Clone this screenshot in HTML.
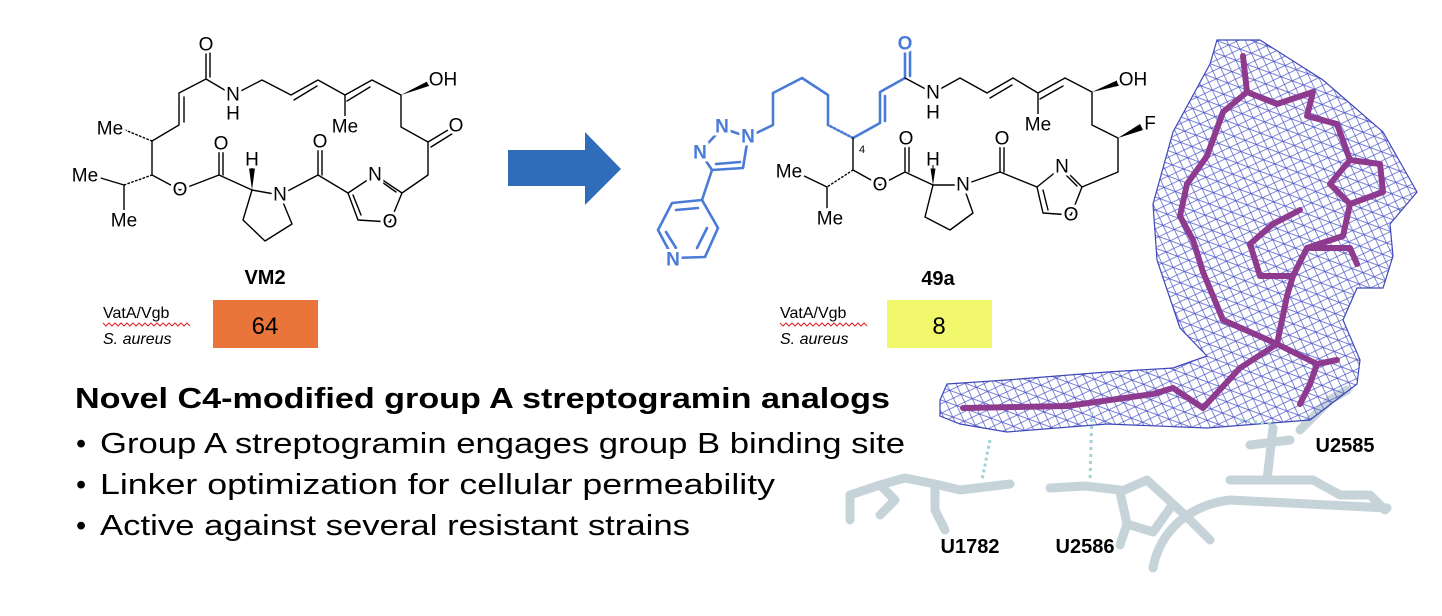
<!DOCTYPE html>
<html><head><meta charset="utf-8">
<style>
html,body{margin:0;padding:0;background:#fff;}
svg{display:block;}
.b{stroke:#000;stroke-width:1.4;fill:none;stroke-linejoin:round;stroke-linecap:round}
.u{stroke:#4a7bd6;stroke-width:2.6;fill:none;stroke-linejoin:round;stroke-linecap:round}
.a{font-family:"Liberation Sans",sans-serif;font-size:19px;fill:#000;text-anchor:middle;dominant-baseline:central;stroke:#fff;stroke-width:6px;paint-order:stroke;}
.ab{font-family:"Liberation Sans",sans-serif;font-size:19px;fill:#4a7bd6;text-anchor:middle;dominant-baseline:central;stroke:#fff;stroke-width:6px;paint-order:stroke;font-weight:bold}
.lbl{font-family:"Liberation Sans",sans-serif;font-weight:bold;font-size:20px;text-anchor:middle;}
.st{stroke:#8e3b8f;stroke-width:6;fill:none;stroke-linecap:round;stroke-linejoin:round}
.rn{stroke:#c6d4d9;stroke-width:9;fill:none;stroke-linecap:round;stroke-linejoin:round}
.txt{font-family:"Liberation Sans Narrow","Liberation Sans",sans-serif;font-size:29px;fill:#000}
</style></head>
<body>
<svg width="1442" height="616" viewBox="0 0 1442 616" xmlns="http://www.w3.org/2000/svg">
<defs>
<pattern id="mesh" width="12" height="12" patternUnits="userSpaceOnUse" patternTransform="rotate(20)">
<path d="M0 0L12 12M12 0L0 12M0 6H12" stroke="#4b55c6" stroke-width="0.7"/>
</pattern>
</defs>

<!-- ===== VM2 ===== -->
<polyline class="b" points="206,47 206,79 179,93 179,125 152,141 152,175 180,190 219,175 252,190 280,195 318,175 348,193 375,175 402,193 428,175 428,142 401,127 401,95 372,80 345,95 318,80 291,95 262,80 233,95 206,79"/>
<line class="b" x1="210" y1="47" x2="210" y2="77"/>
<line class="b" x1="184" y1="97" x2="184" y2="122"/>
<line class="b" x1="294" y1="100" x2="317" y2="86"/>
<line class="b" x1="347" y1="101" x2="370" y2="87"/>
<line class="b" x1="345" y1="95" x2="345" y2="127"/>
<line class="b" x1="428" y1="142" x2="453" y2="127"/>
<line class="b" x1="431" y1="147" x2="455" y2="132"/>
<line class="b" x1="219" y1="175" x2="219" y2="146"/>
<line class="b" x1="223" y1="175" x2="223" y2="146"/>
<line class="b" x1="318" y1="175" x2="318" y2="144"/>
<line class="b" x1="322" y1="175" x2="322" y2="144"/>
<polyline class="b" points="348,193 358,220 390,222 402,193"/>
<line class="b" x1="379" y1="180" x2="396" y2="192"/>
<line class="b" x1="353" y1="195" x2="361" y2="215"/>
<polyline class="b" points="252,190 243,220 265,241 292,224 280,195"/>
<polygon points="252,190 249,168 255,168" fill="#000"/>
<polygon points="401,95 430,80 432,85" fill="#000"/>
<line class="b" x1="152" y1="175" x2="124" y2="185" stroke-dasharray="1.5,2.5" stroke-width="3"/>
<line class="b" x1="124" y1="185" x2="94" y2="176"/>
<line class="b" x1="124" y1="185" x2="124" y2="214"/>
<line class="b" x1="152" y1="141" x2="125" y2="130" stroke-dasharray="1.5,2.5" stroke-width="3"/>
<text class="a" x="206" y="45">O</text>
<text class="a" x="233" y="95">N</text>
<text class="a" x="233" y="114">H</text>
<text class="a" x="345" y="127">Me</text>
<text class="a" x="443" y="80">OH</text>
<text class="a" x="456" y="126">O</text>
<text class="a" x="221" y="144">O</text>
<text class="a" x="320" y="142">O</text>
<text class="a" x="180" y="190">O</text>
<text class="a" x="280" y="195">N</text>
<text class="a" x="252" y="160">H</text>
<text class="a" x="375" y="175">N</text>
<text class="a" x="390" y="222">O</text>
<text class="a" x="110" y="129">Me</text>
<text class="a" x="85" y="176">Me</text>
<text class="a" x="124" y="221">Me</text>

<text class="lbl" x="265" y="284">VM2</text>
<text x="103" y="318" font-family="Liberation Sans,sans-serif" font-size="16">VatA/Vgb</text>
<path d="M103 323 l3 3 l3 -3 l3 3 l3 -3 l3 3 l3 -3 l3 3 l3 -3 l3 3 l3 -3 l3 3 l3 -3 l3 3 l3 -3 l3 3 l3 -3 l3 3 l3 -3 l3 3 l3 -3 l3 3 l3 -3 l3 3 l3 -3 l3 3 l3 -3 l3 3 l3 -3 l3 3" stroke="#e02020" fill="none" stroke-width="1"/>
<text x="103" y="344" font-family="Liberation Sans,sans-serif" font-size="16" font-style="italic">S. aureus</text>
<rect x="213" y="300" width="105" height="48" fill="#e9753a"/>
<text x="265" y="334" font-family="Liberation Sans,sans-serif" font-size="24" text-anchor="middle">64</text>

<polygon points="508,150 585,150 585,132 621,169 585,205 585,186 508,186" fill="#2f6dbb"/>

<!-- ===== 49a ===== -->
<polyline class="u" points="905,47 905,78 880,92 880,123 853,138"/>
<line class="u" x1="910" y1="48" x2="910" y2="76"/>
<line class="u" x1="885" y1="96" x2="885" y2="121"/>
<line class="u" x1="853" y1="138" x2="828" y2="125" stroke-dasharray="1.5,2.5" stroke-width="4"/>
<polyline class="u" points="828,125 828,95 802,78 773,93 773,125 748,137"/>
<polyline class="u" points="748,137 722,128 700,152 712,170 743,168 748,137"/>
<line class="u" x1="716" y1="164" x2="740" y2="162"/>
<line class="u" x1="712" y1="170" x2="702" y2="200"/>
<polygon class="u" points="702,200 718,228 705,257 673,258 658,230 672,203"/>
<line class="u" x1="707" y1="228" x2="697" y2="248"/>
<line class="u" x1="676" y1="210" x2="698" y2="208"/>
<line class="u" x1="666" y1="232" x2="676" y2="248"/>
<text class="ab" x="905" y="44">O</text>
<text class="ab" x="748" y="137">N</text>
<text class="ab" x="722" y="127">N</text>
<text class="ab" x="700" y="153">N</text>
<text class="ab" x="673" y="260">N</text>

<polyline class="b" points="905,78 933,93 960,78 987,93 1013,78 1038,93 1065,78 1092,92 1092,125 1118,138 1118,172 1082,187 1062,167 1037,187 1000,172 963,185 933,185 905,172 880,185 853,170 853,138"/>
<line class="b" x1="990" y1="98" x2="1012" y2="85"/>
<line class="b" x1="1040" y1="99" x2="1063" y2="86"/>
<line class="b" x1="1038" y1="93" x2="1038" y2="125"/>
<polyline class="b" points="1037,187 1043,213 1071,215 1082,187"/>
<line class="b" x1="1043" y1="190" x2="1048" y2="210"/>
<line class="b" x1="1064" y1="173" x2="1077" y2="186"/>
<line class="b" x1="905" y1="172" x2="905" y2="140"/>
<line class="b" x1="909" y1="172" x2="909" y2="140"/>
<line class="b" x1="1000" y1="172" x2="1000" y2="140"/>
<line class="b" x1="1004" y1="172" x2="1004" y2="140"/>
<polyline class="b" points="933,185 925,217 950,230 973,213 963,185"/>
<polygon points="933,185 930,165 936,165" fill="#000"/>
<polygon points="1092,92 1120,79 1122,85" fill="#000"/>
<polygon points="1118,138 1140,124 1143,130" fill="#000"/>
<line class="b" x1="853" y1="170" x2="827" y2="187" stroke-dasharray="1.5,2.5" stroke-width="3"/>
<line class="b" x1="827" y1="187" x2="800" y2="174"/>
<line class="b" x1="827" y1="187" x2="827" y2="212"/>
<text x="862" y="153" font-family="Liberation Sans,sans-serif" font-size="11" text-anchor="middle">4</text>
<text class="a" x="933" y="93">N</text>
<text class="a" x="933" y="113">H</text>
<text class="a" x="1038" y="125">Me</text>
<text class="a" x="1133" y="80">OH</text>
<text class="a" x="1150" y="124">F</text>
<text class="a" x="906" y="139">O</text>
<text class="a" x="1002" y="139">O</text>
<text class="a" x="880" y="185">O</text>
<text class="a" x="963" y="185">N</text>
<text class="a" x="933" y="160">H</text>
<text class="a" x="1062" y="167">N</text>
<text class="a" x="1071" y="215">O</text>
<text class="a" x="789" y="172">Me</text>
<text class="a" x="830" y="219">Me</text>

<text class="lbl" x="938" y="285">49a</text>
<text x="780" y="318" font-family="Liberation Sans,sans-serif" font-size="16">VatA/Vgb</text>
<path d="M780 323 l3 3 l3 -3 l3 3 l3 -3 l3 3 l3 -3 l3 3 l3 -3 l3 3 l3 -3 l3 3 l3 -3 l3 3 l3 -3 l3 3 l3 -3 l3 3 l3 -3 l3 3 l3 -3 l3 3 l3 -3 l3 3 l3 -3 l3 3 l3 -3 l3 3 l3 -3 l3 3" stroke="#e02020" fill="none" stroke-width="1"/>
<text x="780" y="344" font-family="Liberation Sans,sans-serif" font-size="16" font-style="italic">S. aureus</text>
<rect x="887" y="300" width="105" height="48" fill="#f2f86c"/>
<text x="939" y="334" font-family="Liberation Sans,sans-serif" font-size="24" text-anchor="middle">8</text>

<!-- ===== text ===== -->
<text class="txt" x="75" y="408" font-weight="bold" textLength="815" lengthAdjust="spacingAndGlyphs">Novel C4-modified group A streptogramin analogs</text>
<text class="txt" x="76" y="453">•</text>
<text class="txt" x="76" y="494">•</text>
<text class="txt" x="76" y="535">•</text>
<text class="txt" x="100" y="453" textLength="805" lengthAdjust="spacingAndGlyphs">Group A streptogramin engages group B binding site</text>
<text class="txt" x="100" y="494" textLength="675" lengthAdjust="spacingAndGlyphs">Linker optimization for cellular permeability</text>
<text class="txt" x="100" y="535" textLength="590" lengthAdjust="spacingAndGlyphs">Active against several resistant strains</text>

<!-- ===== RNA ===== -->
<path class="rn" d="M1153,568 C1160,530 1190,505 1230,500 L1387,508" stroke-width="16" stroke="#e3eaec"/>
<polyline class="rn" points="850,520 850,495 880,485 905,478 935,484 960,490 1010,484"/>
<polyline class="rn" points="880,485 895,500 880,515"/>
<polyline class="rn" points="935,484 935,510 945,530"/>
<polyline class="rn" points="1050,488 1085,486 1120,490"/>
<polygon class="rn" points="1120,492 1147,480 1173,504 1153,532 1127,524"/>
<polyline class="rn" points="1173,504 1190,520 1210,540"/>
<polyline class="rn" points="1127,524 1120,545"/>
<polyline class="rn" points="1273,428 1267,480 1230,480"/>
<polyline class="rn" points="1267,480 1313,480 1340,495 1370,495 1385,510"/>
<polyline class="rn" points="1300,430 1330,400 1347,390"/>
<polyline class="rn" points="1250,445 1290,440"/>

<!-- ===== density map ===== -->
<polygon points="940,400 947,384 1007,380 1107,372 1173,368 1207,356 1180,328 1157,260 1153,204 1173,132 1210,64 1217,40 1260,40 1323,80 1383,132 1417,192 1390,224 1393,256 1383,288 1357,288 1343,320 1360,360 1357,384 1310,420 1207,428 1107,424 1007,432 960,424 940,416" fill="url(#mesh)" stroke="#3d47b8" stroke-width="1.2"/>
<polyline class="st" points="963,408 1067,406 1153,394 1173,388 1203,408 1240,368 1277,344 1287,296 1293,276 1307,248 1350,248 1357,264"/>
<polyline class="st" points="1277,344 1223,320 1203,272 1193,240 1180,216 1187,184 1207,156 1223,112 1247,92 1243,56"/>
<polyline class="st" points="1247,92 1277,104 1313,92 1307,116 1337,124 1350,160 1380,164 1383,192 1350,204 1330,184 1350,160"/>
<polyline class="st" points="1350,204 1343,236 1307,248"/>
<polyline class="st" points="1273,224 1250,244 1260,276 1293,276"/>
<polyline class="st" points="1273,224 1300,210"/>
<polyline class="st" points="1277,344 1317,364 1337,360"/>
<polyline class="st" points="1317,364 1310,384 1300,404"/>
<line x1="990" y1="440" x2="982" y2="480" stroke="#9fd3d6" stroke-width="3" stroke-dasharray="3,3"/>
<line x1="1092" y1="412" x2="1090" y2="480" stroke="#9fd3d6" stroke-width="3" stroke-dasharray="3,4"/>
<line x1="1240" y1="420" x2="1272" y2="424" stroke="#9fd3d6" stroke-width="3" stroke-dasharray="3,4"/>

<text class="lbl" x="1345" y="452">U2585</text>
<text class="lbl" x="970" y="553">U1782</text>
<text class="lbl" x="1085" y="553">U2586</text>
</svg>
</body></html>
